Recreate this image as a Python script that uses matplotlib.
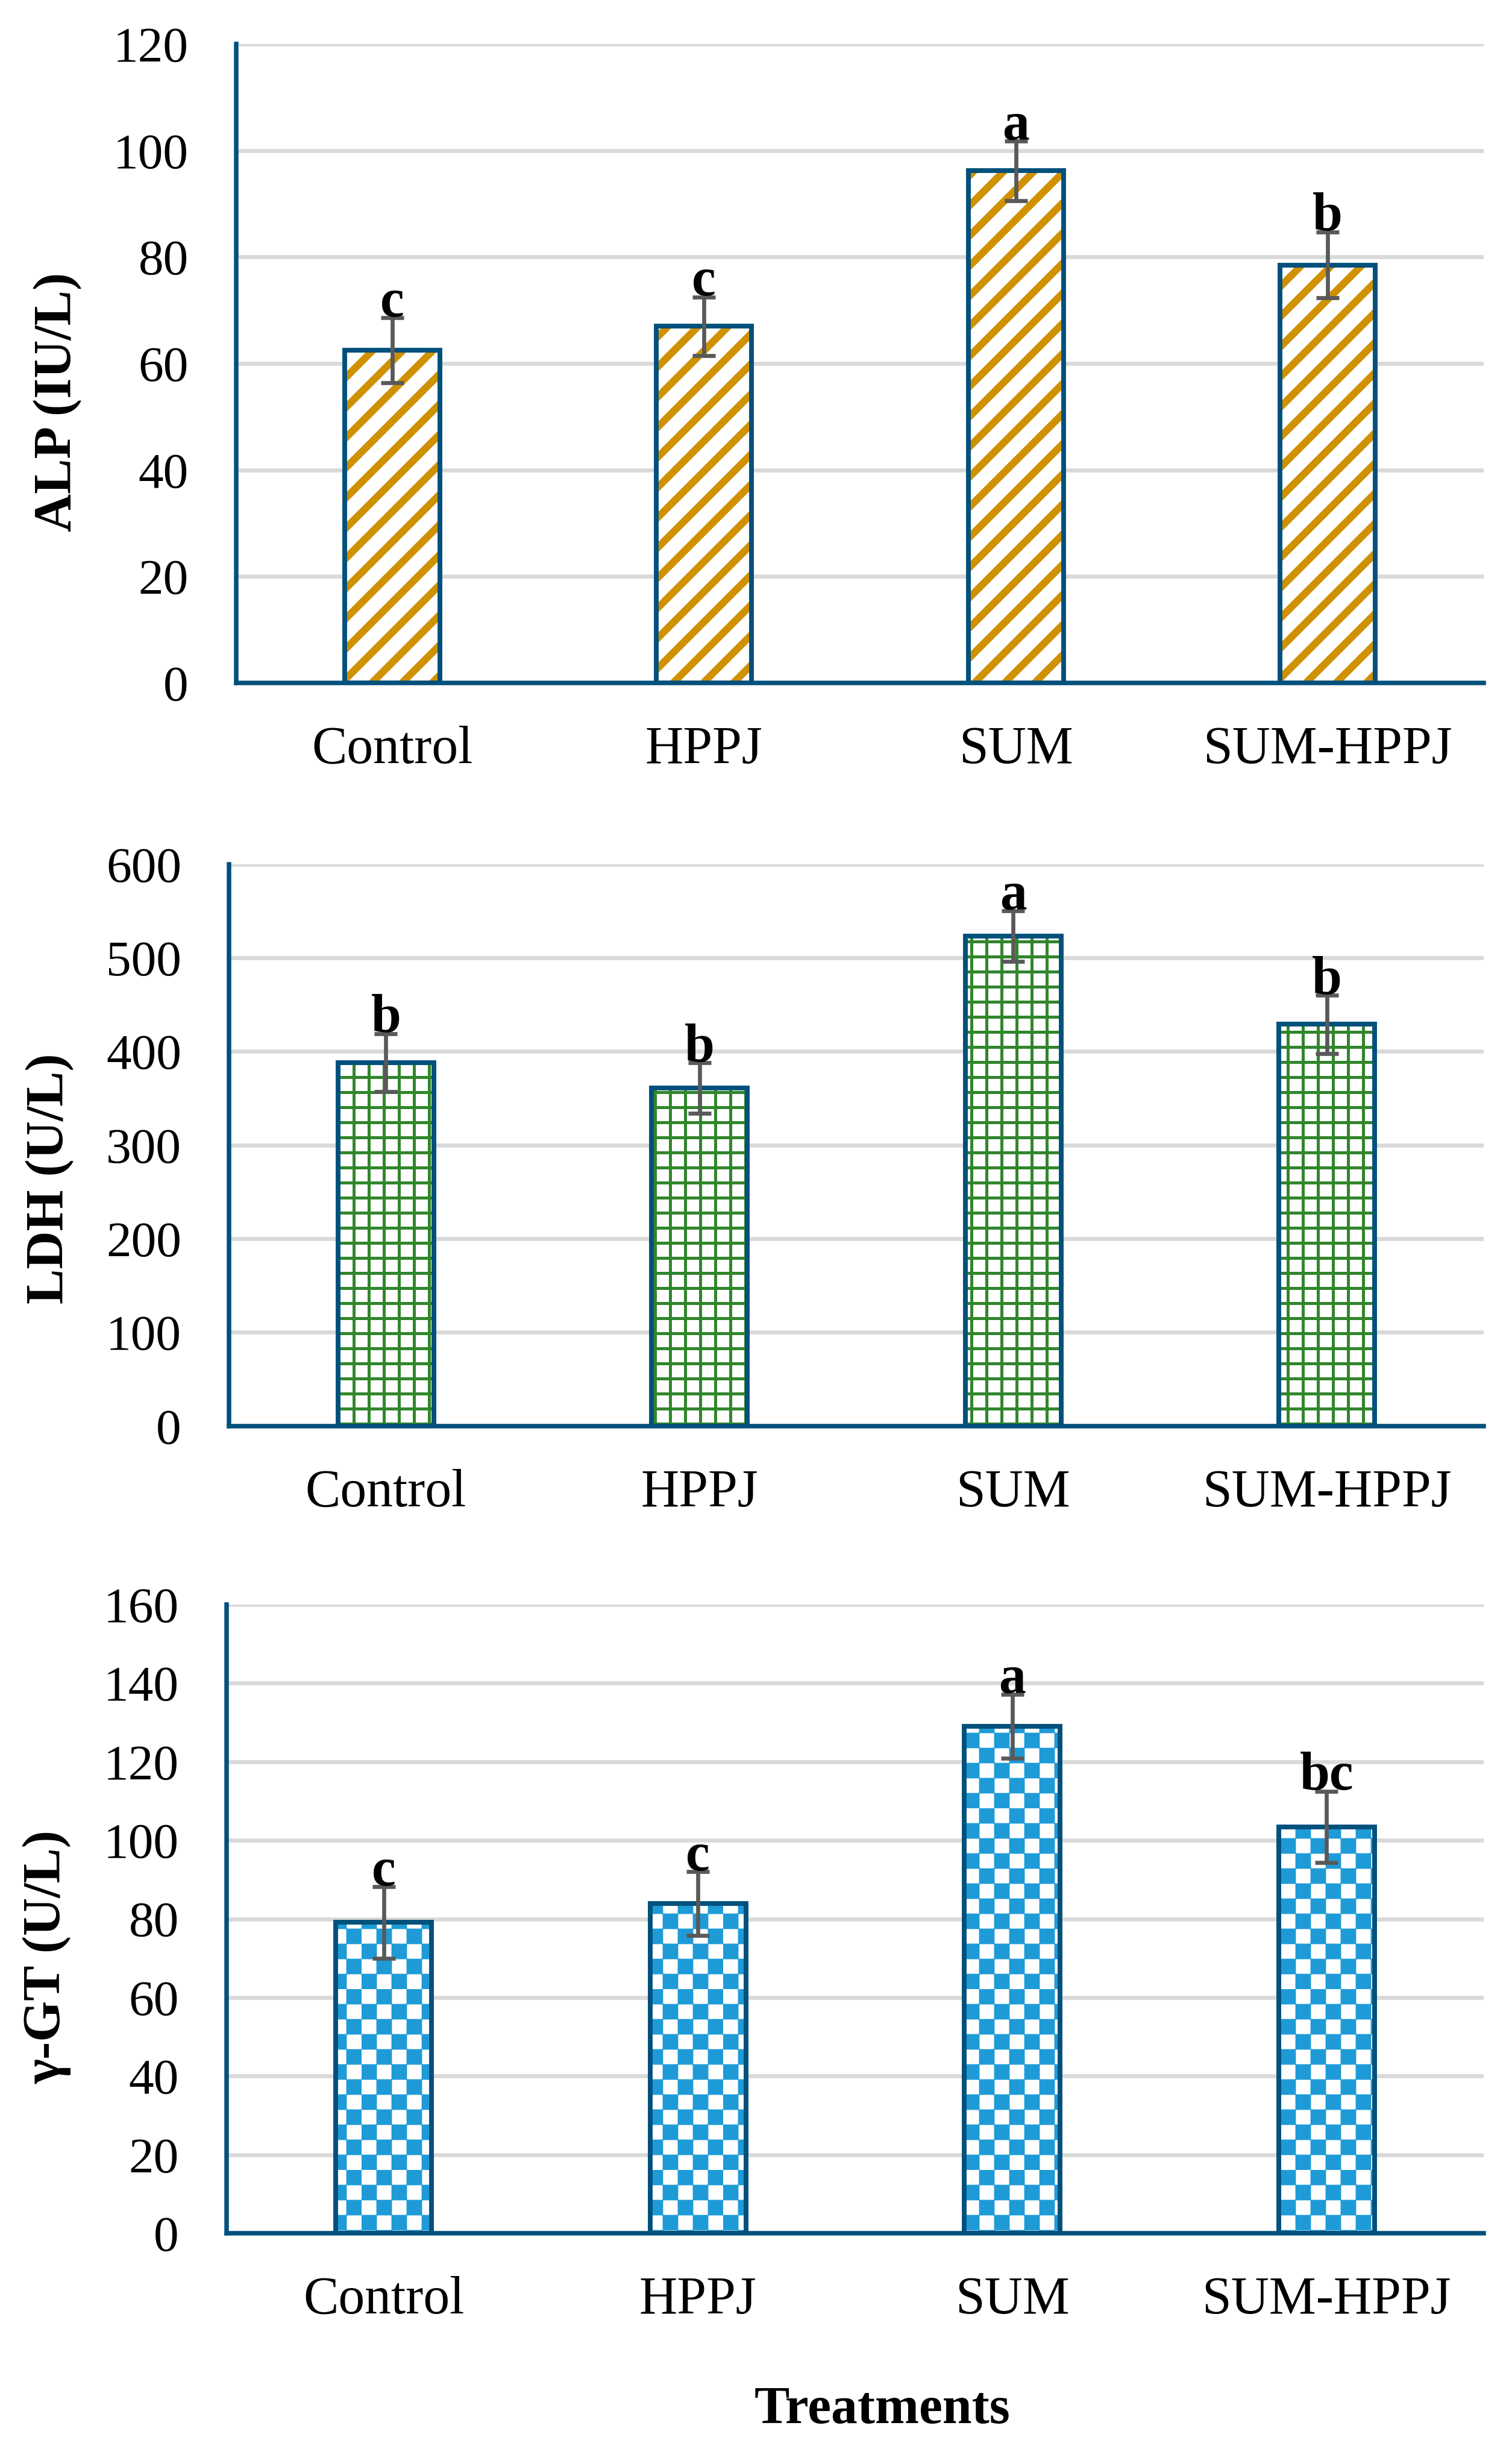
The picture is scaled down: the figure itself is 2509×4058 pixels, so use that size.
import numpy as np
import matplotlib
matplotlib.use('Agg')
import matplotlib as mpl
import matplotlib.pyplot as plt
import matplotlib.hatch as mhatch
from matplotlib.path import Path

# 数据
categories = ['Control', 'HPPJ', 'SUM', 'SUM-HPPJ']

alp = [62.5, 67.0, 96.2, 78.5]
alp_err = [6.1, 5.5, 5.6, 6.2]
alp_letters = ['c', 'c', 'a', 'b']

ldh = [388, 361, 523, 429]
ldh_err = [31, 27, 27, 31]
ldh_letters = ['b', 'b', 'a', 'b']

ggt = [79.1, 83.9, 129.0, 103.4]
ggt_err = [9.1, 8.1, 8.1, 9.1]
ggt_letters = ['c', 'c', 'a', 'bc']


# 棋盘格填充 (用 '*' 字符代替原来的星形)
class CheckerHatch(mhatch.HatchPatternBase):
    def __init__(self, hatch, density):
        self.n = hatch.count('*') * density
        self.num_vertices = 10 * self.n * self.n

    def set_vertices_and_codes(self, vertices, codes):
        n = self.n
        h = 0.5 / n
        k = 0
        for i in range(n):
            for j in range(n):
                for d in (0, h):
                    x0 = i / n + d
                    y0 = j / n + d
                    vertices[k:k + 5] = [(x0, y0), (x0 + h, y0), (x0 + h, y0 + h),
                                         (x0, y0 + h), (x0, y0)]
                    codes[k:k + 5] = [Path.MOVETO, Path.LINETO, Path.LINETO,
                                      Path.LINETO, Path.CLOSEPOLY]
                    k += 5


mhatch._hatch_types = [t for t in mhatch._hatch_types if t is not mhatch.Stars] + [CheckerHatch]


def hatch_lw(patch, lw):
    if hasattr(patch, 'set_hatch_linewidth'):
        patch.set_hatch_linewidth(lw)
    else:
        old_draw = patch.draw

        def draw(renderer, old_draw=old_draw):
            with mpl.rc_context({'hatch.linewidth': lw}):
                old_draw(renderer)
        patch.draw = draw


FONT = 'Liberation Serif'
EDGE = '#02507C'
GRID = '#D9D9D9'
ERRC = '#595959'

plt.rcParams['font.family'] = [FONT, 'DejaVu Serif']

fig = plt.figure(figsize=(2509 / 300, 4058 / 300), dpi=300)

panels = [
    # 数据, 误差, 字母, 纵轴名, 纵轴上限, 步长, 填充, 颜色, 填充线宽, 位置
    (alp, alp_err, alp_letters, 'ALP (IU/L)', 120, 20, '//', '#CF9100', 2.9,
     [0.1562, 0.7208, 0.8250, 0.2612]),
    (ldh, ldh_err, ldh_letters, 'LDH (U/L)', 600, 100, '++', '#31862C', 1.2,
     [0.1515, 0.4170, 0.8298, 0.2297]),
    (ggt, ggt_err, ggt_letters, 'γ-GT (U/L)', 160, 20, '*', '#1E9BD7', 0.2,
     [0.1499, 0.0870, 0.8314, 0.2570]),
]

x = np.arange(len(categories))
w = 0.305

for vals, errs, letters, ylab, ymax, step, hatch, hcol, hlw, pos in panels:
    ax = fig.add_axes(pos)

    # 填充层 + 边框层
    fill_bars = ax.bar(x, vals, width=w, color='white', edgecolor=hcol,
                       linewidth=0, hatch=hatch, zorder=2)
    for b in fill_bars:
        hatch_lw(b, hlw)
    ax.bar(x, vals, width=w, fill=False, edgecolor=EDGE, linewidth=1.9, zorder=3)

    ax.errorbar(x, vals, yerr=errs, fmt='none', ecolor=ERRC, elinewidth=1.6,
                capsize=4.6, capthick=1.6, zorder=4)

    for i in range(len(vals)):
        ax.annotate(letters[i], (x[i], vals[i] + errs[i]), xytext=(0, 0.6),
                    textcoords='offset points', ha='center', va='baseline',
                    fontsize=21.5, fontweight='bold', family=FONT, zorder=5)

    ax.set_xlim(-0.5, 3.5)
    ax.set_ylim(0, ymax)
    ax.set_yticks(np.arange(0, ymax + 1, step))
    ax.set_xticks(x)
    ax.set_xticklabels(categories)

    ax.yaxis.grid(True, color=GRID, linewidth=1.6)
    ax.set_axisbelow(True)

    ax.spines['top'].set_visible(False)
    ax.spines['right'].set_visible(False)
    for s in ['left', 'bottom']:
        ax.spines[s].set_color(EDGE)
        ax.spines[s].set_linewidth(1.8)
        ax.spines[s].set_zorder(3)

    ax.tick_params(axis='y', length=0, pad=19, labelsize=20)
    ax.tick_params(axis='x', length=0, pad=17, labelsize=21)

    ax.set_ylabel(ylab, fontsize=21, fontweight='bold', va='center')
    ax.yaxis.set_label_coords(-0.143, 0.44)

fig.text(0.5835, 1 - 4020 / 4058, 'Treatments', ha='center', va='baseline',
         fontsize=21, fontweight='bold')

fig.savefig('out.png', dpi=300)
